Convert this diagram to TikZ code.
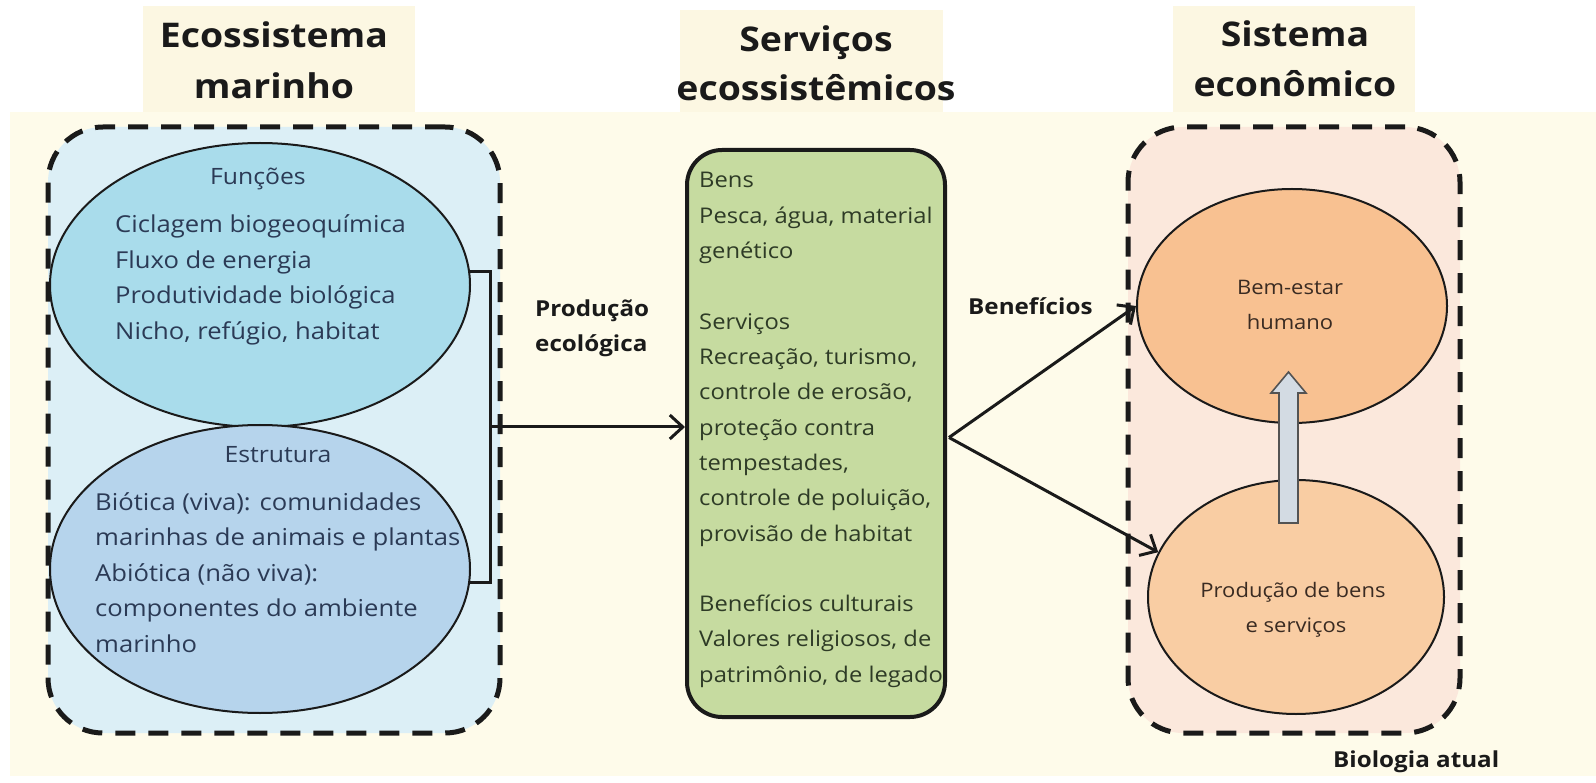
\documentclass[tikz,border=0pt]{standalone}
\usepackage{fontspec}
\setmainfont{Open Sans}[FakeStretch=1.1]
\usetikzlibrary{arrows.meta,shapes.geometric,calc}
\definecolor{bgcream}{HTML}{FEFBEA}
\definecolor{titlebg}{HTML}{FCF7E2}
\definecolor{lboxfill}{HTML}{DCEFF6}
\definecolor{funfill}{HTML}{A9DCEB}
\definecolor{estfill}{HTML}{B6D4EC}
\definecolor{svcfill}{HTML}{C6DBA0}
\definecolor{rboxfill}{HTML}{FBE8DC}
\definecolor{bemfill}{HTML}{F8C191}
\definecolor{prodfill}{HTML}{F9CDA3}
\definecolor{grayarrow}{HTML}{D3DBE3}
\definecolor{ltext}{HTML}{2B3A55}
\definecolor{mtext}{HTML}{2E3B26}
\definecolor{rtext}{HTML}{3A2B22}
\definecolor{ink}{HTML}{1A1A1A}
\tikzset{
  dbox/.style={draw=ink, line width=5pt, dash pattern=on 20pt off 13pt, rounded corners=55pt, inner sep=0pt},
  ell/.style={ellipse, draw=ink, line width=2pt, inner sep=0pt},
  ttl/.style={anchor=base, font=\fontsize{34}{40}\selectfont\bfseries, text=ink, inner sep=0pt},
  ltxt/.style={anchor=base west, font=\fontsize{23.3}{28}\selectfont, text=ltext, inner sep=0pt},
  lhead/.style={anchor=base, font=\fontsize{22.5}{26}\selectfont, text=ltext, inner sep=0pt},
  mtxt/.style={anchor=base west, font=\fontsize{21.6}{26}\selectfont, text=mtext, inner sep=0pt},
  rtxt/.style={anchor=base, font=\fontsize{20}{24}\selectfont, text=rtext, inner sep=0pt},
  blbl/.style={anchor=base west, font=\fontsize{22}{26}\selectfont\bfseries, text=ink, inner sep=0pt},
  conn/.style={draw=ink, line width=3pt},
  arr/.style={conn, -{Straight Barb[length=13pt,width=24pt,line width=3pt]}},
}
\begin{document}
\begin{tikzpicture}[x=1pt,y=-1pt]
\useasboundingbox (0,0) rectangle (1596,783);
\fill[white] (0,0) rectangle (1596,783);
\fill[bgcream] (10,112) rectangle (1596,776);
% title backgrounds
\fill[titlebg] (143,6) rectangle (415,112);
\fill[titlebg] (680,10) rectangle (943,112);
\fill[titlebg] (1173,6) rectangle (1415,112);
% titles
\node[ttl] (t1a) at (274,48) {Ecossistema};
\node[ttl] (t1b) at (274,99) {marinho};
\node[ttl] (t2a) at (816,52) {Serviços};
\node[ttl] (t2b) at (816,101) {ecossistêmicos};
\node[ttl] (t3a) at (1295,47) {Sistema};
\node[ttl] (t3b) at (1295,97) {econômico};
% dashed containers
\node[dbox, fill=lboxfill, minimum width=452pt, minimum height=606pt] (eco) at (274,430) {};
\node[dbox, fill=rboxfill, minimum width=332pt, minimum height=606pt] (econ) at (1294,430) {};
% left ellipses
\node[ell, fill=funfill, minimum width=420pt, minimum height=284pt] (fun) at (260,285) {};
\node[ell, fill=estfill, minimum width=420pt, minimum height=288pt] (est) at (260,569) {};
\node[lhead] (funh) at (258,185) {Funções};
\node[ltxt] (f1) at (115,233) {Ciclagem biogeoquímica};
\node[ltxt] (f2) at (115,268.5) {Fluxo de energia};
\node[ltxt] (f3) at (115,304) {Produtividade biológica};
\node[ltxt] (f4) at (115,339.5) {Nicho, refúgio, habitat};
\node[lhead] (esth) at (278,463) {Estrutura};
\node[ltxt] (e1) at (95,510) {Biótica (viva): comunidades};
\node[ltxt] (e2) at (95,545.5) {marinhas de animais e plantas};
\node[ltxt] (e3) at (95,581) {Abiótica (não viva):};
\node[ltxt] (e4) at (95,616.5) {componentes do ambiente};
\node[ltxt] (e5) at (95,652) {marinho};
% bracket and arrow
\draw[conn] ($(fun.east)+(-1,-13)$) -- (490,272) coordinate (bt) -- (490,582) coordinate (bb) -- ($(est.east)+(-1,13)$);
\coordinate (bmid) at (490,427);
% middle box
\node[draw=ink, line width=4pt, fill=svcfill, rounded corners=35pt, minimum width=258pt, minimum height=567pt, inner sep=0pt] (svc) at (816,433.5) {};
\draw[arr] (bmid) -- (bmid -| svc.west);
\node[mtxt] (m1) at (699,188) {Bens};
\node[mtxt] (m2) at (699,223.3) {Pesca, água, material};
\node[mtxt] (m3) at (699,258.6) {genético};
\node[mtxt] (m4) at (699,329.2) {Serviços};
\node[mtxt] (m5) at (699,364.5) {Recreação, turismo,};
\node[mtxt] (m6) at (699,399.8) {controle de erosão,};
\node[mtxt] (m7) at (699,435.1) {proteção contra};
\node[mtxt] (m8) at (699,470.4) {tempestades,};
\node[mtxt] (m9) at (699,505.7) {controle de poluição,};
\node[mtxt] (m10) at (699,541) {provisão de habitat};
\node[mtxt] (m11) at (699,611.6) {Benefícios culturais};
\node[mtxt] (m12) at (699,646.9) {Valores religiosos, de};
\node[mtxt] (m13) at (699,682.2) {patrimônio, de legado};
% label left
\node[blbl] (pe1) at (535,317) {Produção};
\node[blbl] (pe2) at (535,352) {ecológica};
% right ellipses
\node[ell, fill=bemfill, minimum width=310pt, minimum height=234pt] (bem) at (1292,306) {};
\node[ell, fill=prodfill, minimum width=296pt, minimum height=234pt] (prod) at (1296,597) {};
\node[rtxt] (b1) at (1290,295) {Bem-estar};
\node[rtxt] (b2) at (1290,330) {humano};
\node[rtxt] (p1) at (1293,597) {Produção de bens};
\node[rtxt] (p2) at (1296,632) {e serviços};
% block arrow
\draw[fill=grayarrow, draw=ink!75, line width=1.6pt, line join=miter]
  (1279,523) -- (1279,393) -- (1271,393) -- (1288.5,372) -- (1306,393) -- (1298,393) -- (1298,523) -- cycle;
% right arrows
\coordinate (sout) at ($(svc.east)+(2,4)$);
\draw[arr] (sout) -- (bem.west);
\draw[arr] (sout) -- (prod.162);
\node[blbl] (ben) at (968,315) {Benefícios};
% credit
\node[blbl, anchor=base west] (cred) at (1333,767) {Biologia atual};
\end{tikzpicture}
\end{document}
